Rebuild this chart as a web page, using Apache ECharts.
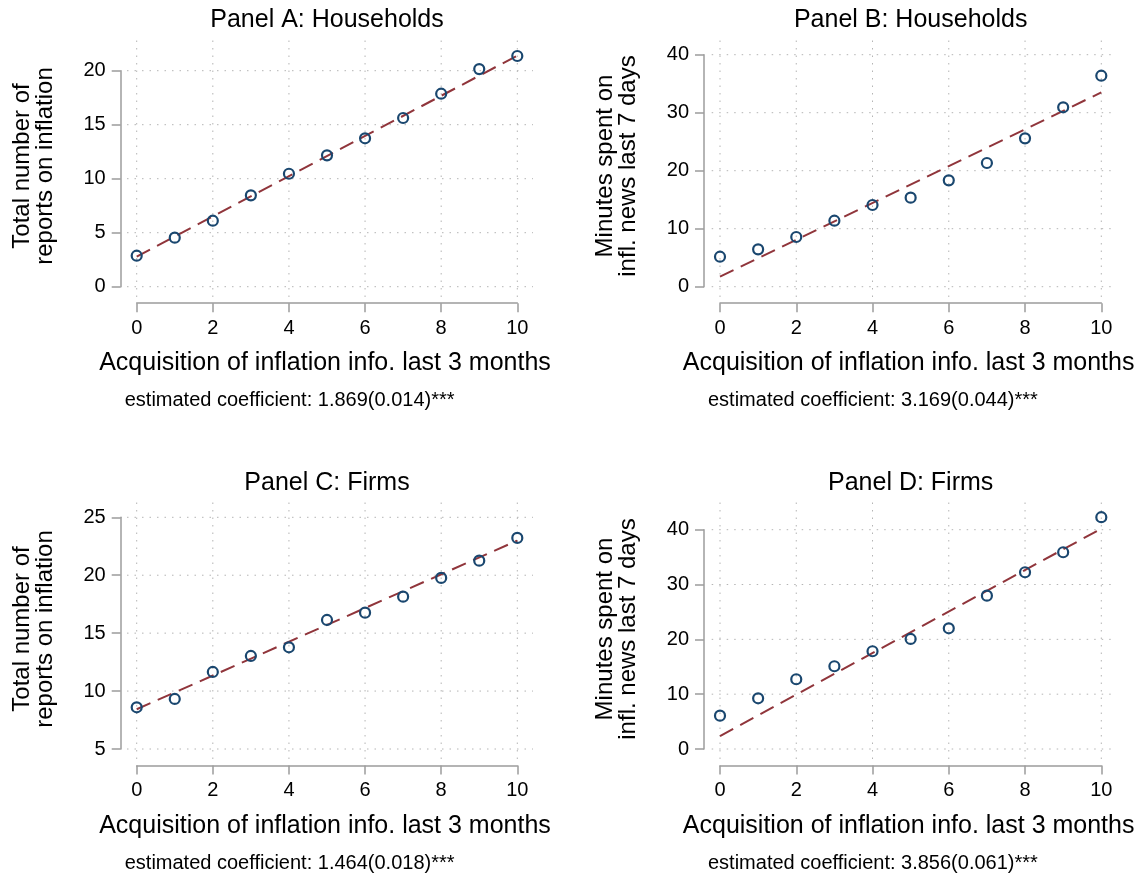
<!DOCTYPE html>
<html><head><meta charset="utf-8">
<script src="https://cdn.jsdelivr.net/npm/echarts@6/dist/echarts.min.js"></script>
<style>html,body{margin:0;padding:0;background:#fff}#c{width:1147px;height:878px}</style>
</head><body><div id="c"></div>
<script>
// ---- data ----
const xValues = [0, 1, 2, 3, 4, 5, 6, 7, 8, 9, 10];
const xTicks = [0, 2, 4, 6, 8, 10];
const fitX = [0, 10];

const reportsHouseholds = [2.87, 4.54, 6.11, 8.46, 10.46, 12.16, 13.74, 15.62, 17.87, 20.15, 21.36];
const minutesHouseholds = [5.17, 6.44, 8.57, 11.38, 14.09, 15.35, 18.34, 21.33, 25.58, 30.93, 36.38];
const reportsFirms = [8.60, 9.32, 11.65, 13.03, 13.78, 16.14, 16.77, 18.15, 19.77, 21.26, 23.22];
const minutesFirms = [6.08, 9.25, 12.72, 15.09, 17.83, 20.07, 22.02, 27.97, 32.24, 35.89, 42.28];

const fitReportsHouseholds = [2.78, 21.40];
const fitMinutesHouseholds = [1.72, 33.50];
const fitReportsFirms = [8.43, 22.99];
const fitMinutesFirms = [2.37, 40.20];

const yTicksReportsHouseholds = [0, 5, 10, 15, 20];
const yTicksMinutesHouseholds = [0, 10, 20, 30, 40];
const yTicksReportsFirms = [5, 10, 15, 20, 25];
const yTicksMinutesFirms = [0, 10, 20, 30, 40];

const panelTitles = ['Panel A: Households', 'Panel B: Households', 'Panel C: Firms', 'Panel D: Firms'];
const yTitleReports = 'Total number of\nreports on inflation';
const yTitleMinutes = 'Minutes spent on\ninfl. news last 7 days';
const xTitle = 'Acquisition of inflation info. last 3 months';
const coefTexts = [
  'estimated coefficient: 1.869(0.014)***',
  'estimated coefficient: 3.169(0.044)***',
  'estimated coefficient: 1.464(0.018)***',
  'estimated coefficient: 3.856(0.061)***'
];

// ---- layout ----
const FONT = '"Liberation Sans", Arial, Helvetica, sans-serif';
const outerCols = [{l: 127, r: 533}, {l: 711.7, r: 1116.7}];
const outerRows = [{t: 38, b: 297}, {t: 501, b: 759}];
const innerBoxes = [
  {l: 136.7, r: 517.3, t: 70.7, b: 286.7},
  {l: 720, r: 1101.3, t: 54.7, b: 286.7},
  {l: 136.7, r: 517.3, t: 517.3, b: 749},
  {l: 720, r: 1101.3, t: 529.7, b: 749}
];
const AXIS_GAP_X = 16.5;  // x axis line sits below the plot region
const AXIS_GAP_Y = 16;    // y axis line sits left of the plot region

const panels = [
  {y: reportsHouseholds, fit: fitReportsHouseholds, yTicks: yTicksReportsHouseholds, yTitle: yTitleReports, col: 0, row: 0},
  {y: minutesHouseholds, fit: fitMinutesHouseholds, yTicks: yTicksMinutesHouseholds, yTitle: yTitleMinutes, col: 1, row: 0},
  {y: reportsFirms, fit: fitReportsFirms, yTicks: yTicksReportsFirms, yTitle: yTitleReports, col: 0, row: 1},
  {y: minutesFirms, fit: fitMinutesFirms, yTicks: yTicksMinutesFirms, yTitle: yTitleMinutes, col: 1, row: 1}
];

const grids = [], xAxes = [], yAxes = [], series = [], graphics = [];
const gridStyle = {color: '#b4b4b4', width: 1, type: [1.5, 6]};
const axisColor = '#9c9c9c';
const rowShift = [0, 463];

panels.forEach((p, i) => {
  const oc = outerCols[p.col], orow = outerRows[p.row], ib = innerBoxes[i];
  const x0 = xTicks[0], x1 = xTicks[xTicks.length - 1];
  const y0 = p.yTicks[0], y1 = p.yTicks[p.yTicks.length - 1];
  const xPx = (ib.r - ib.l) / (x1 - x0);
  const yPx = (ib.b - ib.t) / (y1 - y0);
  const oxMin = x0 - (ib.l - oc.l) / xPx;
  const oxMax = x1 + (oc.r - ib.r) / xPx;
  const oyMin = y0 - (orow.b - ib.b) / yPx;
  const oyMax = y1 + (ib.t - orow.t) / yPx;
  const w = ib.r - ib.l, h = ib.b - ib.t;

  const go = i * 3, gx = i * 3 + 1, gy = i * 3 + 2;
  // plot region (data + dotted grid)
  grids.push({left: oc.l, top: orow.t, width: oc.r - oc.l, height: orow.b - orow.t});
  // x-axis grid: tick range, shifted down
  grids.push({left: ib.l, top: ib.t + AXIS_GAP_X, width: w, height: h});
  // y-axis grid: tick range, shifted left
  grids.push({left: ib.l - AXIS_GAP_Y, top: ib.t, width: w, height: h});

  xAxes.push({type: 'value', gridIndex: go, min: oxMin, max: oxMax, show: false});
  yAxes.push({type: 'value', gridIndex: go, min: oyMin, max: oyMax, show: false});

  xAxes.push({
    type: 'value', gridIndex: gx, min: x0, max: x1, interval: xTicks[1] - xTicks[0],
    position: 'bottom',
    axisLine: {show: true, onZero: false, lineStyle: {color: axisColor, width: 1.5}},
    axisTick: {show: true, inside: false, length: 9, lineStyle: {color: axisColor, width: 1.5}},
    axisLabel: {show: true, fontSize: 20, fontFamily: FONT, color: '#000', margin: 15},
    splitLine: {show: false}
  });
  yAxes.push({type: 'value', gridIndex: gx, min: 0, max: 1, show: false});
  xAxes.push({type: 'value', gridIndex: gy, min: 0, max: 1, show: false});
  yAxes.push({
    type: 'value', gridIndex: gy, min: y0, max: y1, interval: p.yTicks[1] - p.yTicks[0],
    position: 'left',
    axisLine: {show: true, onZero: false, lineStyle: {color: axisColor, width: 1.5}},
    axisTick: {show: true, inside: false, length: 9, lineStyle: {color: axisColor, width: 1.5}},
    axisLabel: {show: true, fontSize: 20, fontFamily: FONT, color: '#000', margin: 15},
    splitLine: {show: false}
  });

  // dotted grid lines at tick values, spanning the plot region
  xTicks.forEach(t => series.push({
    type: 'line', xAxisIndex: go, yAxisIndex: go, data: [[t, oyMin], [t, oyMax]],
    symbol: 'none', silent: true, z: 1, lineStyle: gridStyle
  }));
  p.yTicks.forEach(t => series.push({
    type: 'line', xAxisIndex: go, yAxisIndex: go, data: [[oxMin, t], [oxMax, t]],
    symbol: 'none', silent: true, z: 1, lineStyle: gridStyle
  }));

  series.push({
    type: 'line', xAxisIndex: go, yAxisIndex: go,
    data: fitX.map((x, k) => [x, p.fit[k]]),
    symbol: 'none', silent: true, z: 3,
    lineStyle: {color: '#90353b', width: 2, type: [15, 8]}
  });
  series.push({
    type: 'scatter', xAxisIndex: go, yAxisIndex: go,
    data: xValues.map((x, k) => [x, p.y[k]]),
    symbol: 'circle', symbolSize: 10, z: 4,
    itemStyle: {color: 'rgba(255,255,255,0)', borderColor: '#1a476f', borderWidth: 2.2, opacity: 1}
  });

  const cx = (ib.l + ib.r) / 2;
  const sh = rowShift[p.row];
  graphics.push({type: 'text', x: cx, y: 20.6 + sh,
    style: {text: panelTitles[i], font: '25px ' + FONT, fill: '#000', align: 'center', verticalAlign: 'middle'}});
  graphics.push({type: 'text', x: cx - 2, y: 363 + sh,
    style: {text: xTitle, font: '25px ' + FONT, fill: '#000', align: 'center', verticalAlign: 'middle'}});
  graphics.push({type: 'text', x: ib.l - 12, y: 400 + sh,
    style: {text: coefTexts[i], font: '20px ' + FONT, fill: '#000', align: 'left', verticalAlign: 'middle'}});
  graphics.push({type: 'text', x: ib.l - 103, y: 166 + sh, rotation: Math.PI / 2,
    style: {text: p.yTitle, font: '24px ' + FONT, fill: '#000', align: 'center', verticalAlign: 'middle', lineHeight: 23}});
});

const chart = echarts.init(document.getElementById('c'), null, {renderer: 'canvas'});
chart.setOption({
  animation: false,
  backgroundColor: '#ffffff',
  grid: grids,
  xAxis: xAxes,
  yAxis: yAxes,
  series: series,
  graphic: graphics
});
</script></body></html>
